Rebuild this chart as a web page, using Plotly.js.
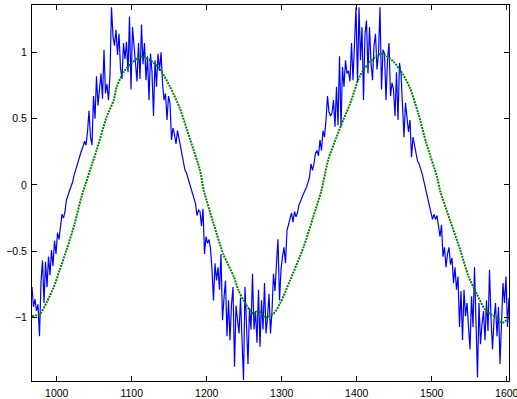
<!DOCTYPE html>
<html>
<head>
<meta charset="utf-8">
<script src="https://cdn.plot.ly/plotly-3.0.1.min.js"></script>
<style>html,body{margin:0;padding:0;background:#fff;}#chart{width:517px;height:399px;}</style>
</head>
<body>
<div id="chart"></div>
<script>
// Blue noisy signal: sampled every 2 units starting at 967
var blueStart = 967;
var blueStep = 2;
var blueY = [
-0.77,-0.92,-0.86,-0.95,-0.90,-1.14,-0.73,-0.57,-0.89,-0.58,
-0.77,-0.54,-0.68,-0.49,-0.61,-0.42,-0.52,-0.36,-0.41,-0.31,
-0.22,-0.25,-0.20,-0.11,-0.08,-0.05,-0.02,0.02,0.07,0.11,
0.16,0.19,0.22,0.26,0.29,0.33,0.30,0.40,0.56,0.36,
0.30,0.67,0.50,0.82,0.60,0.70,0.84,0.65,1.02,0.69,
0.76,0.64,0.83,1.34,1.12,1.05,1.17,0.98,1.14,0.88,
0.80,1.07,0.95,1.08,0.85,1.27,0.72,1.19,1.03,0.89,
0.78,1.07,0.80,1.21,0.91,1.07,0.79,0.97,0.64,0.99,
0.85,0.52,0.94,0.74,0.99,0.86,1.00,0.77,0.64,0.69,
0.49,0.67,0.62,0.34,0.43,0.38,0.31,0.41,0.35,0.27,
0.24,0.18,0.11,0.09,0.05,0.00,-0.03,-0.06,-0.12,-0.14,
-0.23,-0.19,-0.20,-0.31,-0.18,-0.52,-0.39,-0.44,-0.41,-0.48,
-0.64,-0.87,-0.59,-0.72,-0.62,-0.79,-0.52,-1.02,-0.85,-0.72,
-1.14,-0.87,-1.17,-0.90,-0.77,-1.37,-0.91,-1.00,-1.12,-0.85,
-1.20,-1.47,-0.77,-1.12,-1.35,-0.93,-1.09,-0.67,-1.09,-0.95,
-1.19,-0.79,-1.22,-0.87,-1.09,-0.74,-1.12,-1.00,-0.82,-1.12,
-0.95,-0.67,-0.80,-0.59,-0.41,-0.87,-0.64,-0.54,-0.47,-0.59,
-0.34,-0.30,-0.26,-0.21,-0.28,-0.20,-0.24,-0.21,-0.15,-0.12,
-0.10,-0.07,-0.04,-0.02,0.03,0.06,0.16,0.11,0.16,0.24,
0.26,0.22,0.34,0.26,0.41,0.36,0.49,0.67,0.55,0.52,
0.54,0.64,0.44,0.74,0.45,0.97,0.44,0.89,0.74,0.94,
0.84,0.86,0.78,1.07,0.79,1.02,1.34,0.77,1.34,0.94,
1.19,0.64,1.14,1.24,0.84,1.19,0.92,0.79,1.05,1.14,
0.87,0.99,1.34,0.72,1.02,0.99,0.64,0.94,1.07,0.67,
0.77,0.72,0.52,0.85,0.49,0.92,0.84,0.60,0.36,0.62,
0.49,0.40,0.49,0.21,0.36,0.30,0.21,0.18,0.16,0.13,
0.09,0.04,-0.01,-0.05,-0.09,-0.14,-0.19,-0.26,-0.22,-0.26,
-0.23,-0.33,-0.39,-0.30,-0.54,-0.47,-0.62,-0.52,-0.47,-0.60,
-0.55,-0.74,-0.62,-0.79,-0.69,-1.07,-0.80,-1.17,-0.79,-0.99,
-0.89,-1.07,-1.24,-0.84,-1.07,-0.62,-0.97,-1.45,-0.89,-1.20,
-1.05,-0.95,-1.17,-0.87,-1.10,-0.64,-1.00,-1.24,-1.02,-0.89,
-1.14,-0.92,-1.35,-1.00,-0.74,-0.89,-0.69,-1.07,-0.85
];

// Green smooth curve
var greenX = [967,978,987,996,1004,1013,1024,1033,1053,1067,1076,1080,1089,1100,1113,1127,1138,1151,1164,1178,1191,1196,1209,1222,1236,1242,1249,1262,1269,1278,1289,1298,1311,1329,1342,1353,1362,1373,1382,1391,1404,1418,1433,1449,1462,1471,1482,1493,1507,1511,1524,1538,1549,1560,1571,1580,1587,1594,1603];
var greenY = [-0.99,-0.97,-0.88,-0.77,-0.64,-0.49,-0.29,-0.09,0.26,0.52,0.64,0.74,0.85,0.92,0.97,0.93,0.87,0.74,0.58,0.34,0.11,-0.04,-0.29,-0.52,-0.69,-0.79,-0.87,-0.97,-0.95,-1.00,-0.97,-0.89,-0.72,-0.47,-0.24,-0.04,0.19,0.36,0.49,0.61,0.82,0.93,0.99,0.93,0.83,0.73,0.54,0.31,0.06,-0.04,-0.26,-0.49,-0.69,-0.82,-0.94,-0.98,-1.00,-1.04,-1.00];

var xTicks = [1000,1100,1200,1300,1400,1500,1600];
var yTicks = [-1,-0.5,0,0.5,1];

var blueX = blueY.map(function(_, i){ return blueStart + i*blueStep; });

var tickFont = {family: 'Liberation Sans, Arial, Helvetica, sans-serif', size: 10.5, color: '#000'};

var traces = [
  {x: blueX, y: blueY, type: 'scatter', mode: 'lines',
   line: {color: '#0000ff', width: 1.2}, hoverinfo: 'skip'},
  {x: greenX, y: greenY, type: 'scatter', mode: 'lines',
   line: {color: '#008000', width: 2, dash: '2px,1px', shape: 'spline', smoothing: 0.7}, hoverinfo: 'skip'}
];

var layout = {
  width: 517, height: 399,
  margin: {l: 32, r: 8, t: 5, b: 18},
  paper_bgcolor: '#fff', plot_bgcolor: '#fff',
  showlegend: false,
  xaxis: {range: [967, 1603], tickvals: xTicks, ticks: 'inside', ticklen: 5, tickcolor: '#000',
          showline: true, linecolor: '#000', linewidth: 1, mirror: 'ticks',
          showgrid: false, zeroline: false, tickfont: tickFont, ticklabelstandoff: 2,
          ticklabeloverflow: 'allow'},
  yaxis: {range: [-1.478, 1.357], tickvals: yTicks, ticks: 'inside', ticklen: 5, tickcolor: '#000',
          showline: true, linecolor: '#000', linewidth: 1, mirror: 'ticks',
          showgrid: false, zeroline: false, tickfont: tickFont, ticklabelstandoff: 2,
          ticklabeloverflow: 'allow'}
};

Plotly.newPlot('chart', traces, layout, {staticPlot: true, displayModeBar: false});
</script>
</body>
</html>
